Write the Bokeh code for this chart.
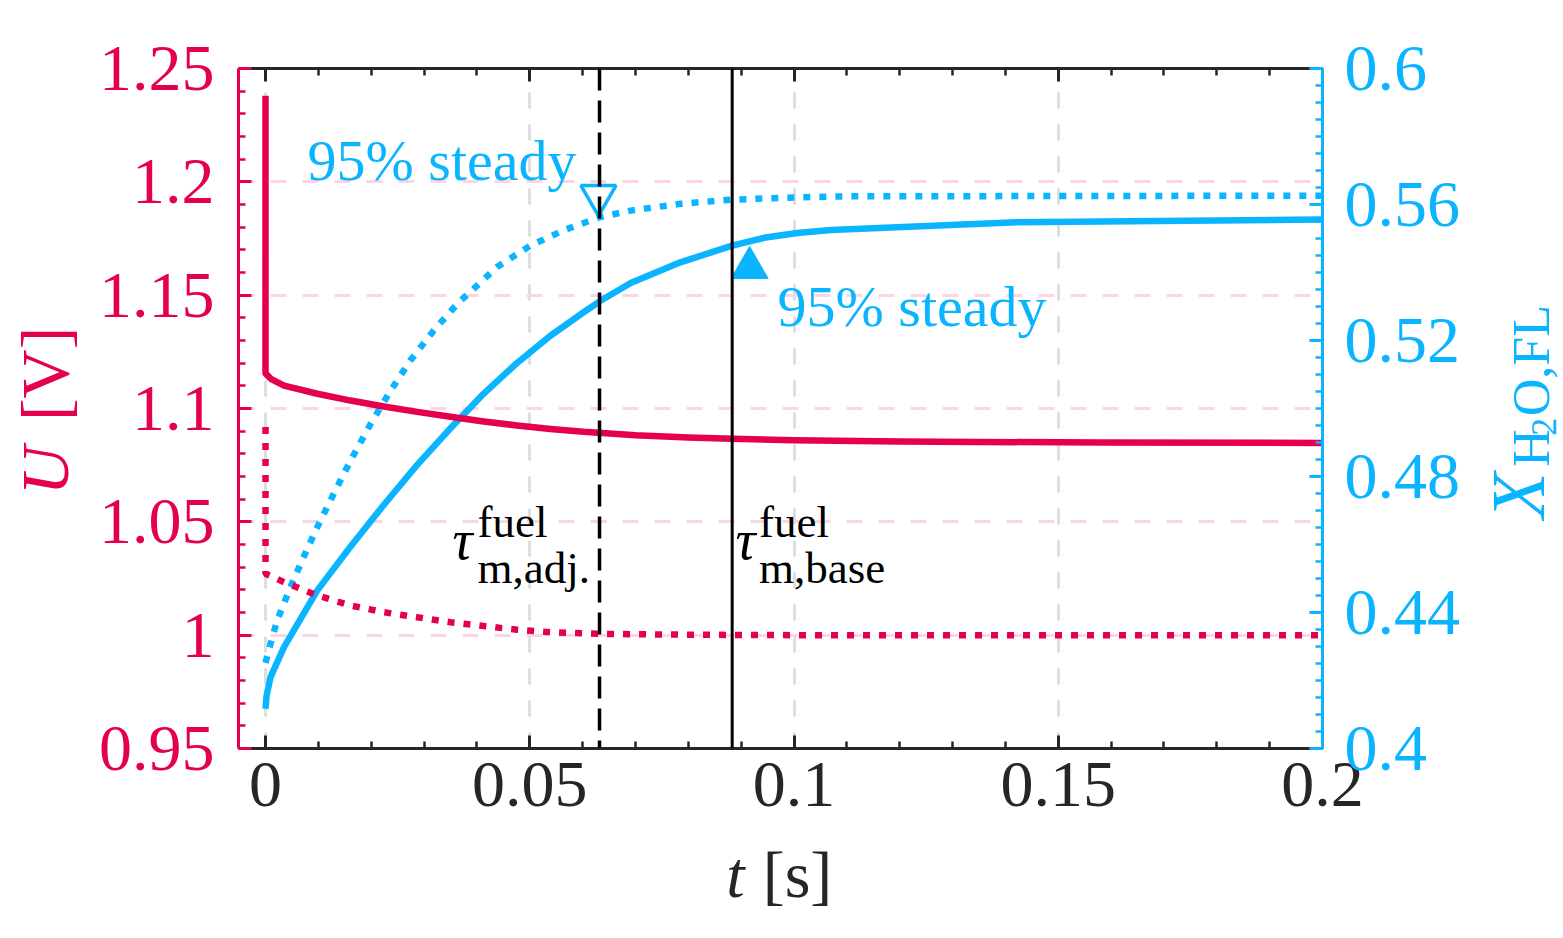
import math
from bokeh.plotting import figure
from bokeh.layouts import row, column
from bokeh.models import (Range1d, LinearAxis, FixedTicker, Span, Label,
                          CustomJSTickFormatter)
from bokeh.embed import file_html
from bokeh.resources import INLINE

RED = "#E5004B"
BLUE = "#0AB4FF"
DARK = "#262626"
FONT = "Liberation Serif"

# ---------------- data ----------------
# cell voltage, base case (solid red, left axis)
t_U_base = [0.0, 0.0, 0.001, 0.0035, 0.0098, 0.0161, 0.0224, 0.0287, 0.035, 0.0413,
            0.0476, 0.0539, 0.0602, 0.07, 0.08, 0.0883, 0.1, 0.12, 0.158, 0.2]
U_base = [1.238, 1.1155, 1.1131, 1.1101, 1.1065, 1.1035, 1.1009, 1.0985, 1.0964, 1.0943,
          1.0925, 1.0910, 1.0897, 1.0882, 1.0872, 1.0866, 1.0860, 1.0854, 1.0850, 1.0848]

# cell voltage, adjusted case (dotted red, left axis)
t_U_adj = [0.0, 0.0, 0.0035, 0.0098, 0.0161, 0.0224, 0.0287, 0.035, 0.0413, 0.0476,
           0.0539, 0.0627, 0.08, 0.1, 0.2]
U_adj = [1.0918, 1.0271, 1.0234, 1.0175, 1.0131, 1.0101, 1.0079, 1.0057, 1.0040, 1.0024,
         1.0013, 1.0006, 1.0002, 1.0, 1.0]

# water fraction, base case (solid blue, right axis)
t_X_base = [0.0, 0.0002, 0.00095, 0.0035, 0.0098, 0.0161, 0.0224, 0.0287, 0.035, 0.0413,
            0.0476, 0.0539, 0.0602, 0.0633, 0.0691, 0.0785, 0.0883, 0.0943, 0.1006, 0.107,
            0.1422, 0.2]
X_base = [0.4117, 0.4155, 0.4210, 0.4298, 0.4465, 0.4594, 0.4717, 0.4834, 0.4942, 0.5044,
          0.5134, 0.5214, 0.5283, 0.5316, 0.5369, 0.5430, 0.5479, 0.5502, 0.5516, 0.5525,
          0.5548, 0.5556]

# water fraction, adjusted case (dotted blue, right axis)
t_X_adj = [0.0, 0.00095, 0.0022, 0.0047, 0.0072, 0.0098, 0.0129, 0.0161, 0.0199, 0.0237,
           0.0274, 0.0318, 0.0363, 0.0413, 0.0438, 0.0501, 0.0564, 0.0633, 0.0691, 0.0785,
           0.088, 0.1006, 0.1101, 0.2]
X_adj = [0.4252, 0.4308, 0.4376, 0.4474, 0.4563, 0.4651, 0.4749, 0.4847, 0.4955, 0.5053,
         0.5141, 0.5229, 0.5308, 0.5380, 0.5416, 0.5479, 0.5524, 0.5563, 0.5582, 0.5602,
         0.5614, 0.5621, 0.5624, 0.5626]

# time constants (vertical lines)
tau_adj = 0.0632
tau_base = 0.0883

# 95 % steady markers (right axis)
mark_adj_t = [0.0630]
mark_adj_X = [0.5626]
mark_base_t = [0.0916]
mark_base_X = [0.5414]

# ticks
x_ticks = [0.0, 0.05, 0.1, 0.15, 0.2]
x_tick_labels = ["0", "0.05", "0.1", "0.15", "0.2"]
x_minor = [0.01, 0.02, 0.03, 0.04, 0.06, 0.07, 0.08, 0.09, 0.11, 0.12, 0.13, 0.14,
           0.16, 0.17, 0.18, 0.19]
U_ticks = [0.95, 1.0, 1.05, 1.1, 1.15, 1.2, 1.25]
U_tick_labels = ["0.95", "1", "1.05", "1.1", "1.15", "1.2", "1.25"]
U_minor = [0.96, 0.97, 0.98, 0.99, 1.01, 1.02, 1.03, 1.04, 1.06, 1.07, 1.08, 1.09, 1.11,
           1.12, 1.13, 1.14, 1.16, 1.17, 1.18, 1.19, 1.21, 1.22, 1.23, 1.24]
X_ticks = [0.4, 0.44, 0.48, 0.52, 0.56, 0.6]
X_tick_labels = ["0.4", "0.44", "0.48", "0.52", "0.56", "0.6"]
X_minor = [0.405, 0.41, 0.415, 0.42, 0.425, 0.43, 0.435, 0.445, 0.45, 0.455, 0.46, 0.465,
           0.47, 0.475, 0.485, 0.49, 0.495, 0.5, 0.505, 0.51, 0.515, 0.525, 0.53, 0.535,
           0.54, 0.545, 0.55, 0.555, 0.565, 0.57, 0.575, 0.58, 0.585, 0.59, 0.595]

# ---------------- layout (page pixels) ----------------
LEFT_W = 90          # strip holding the U [V] title
RIGHT_X0 = 1470      # strip holding the X_H2O,FL title
TOTAL_W = 1563
TOP_H = 835          # height of the row with the main plot
TOTAL_H = 936


def fmt(vals, labs):
    return CustomJSTickFormatter(args=dict(tvals=vals, tlabs=labs), code="""
        const i = tvals.findIndex(v => Math.abs(v - tick) < 1e-9);
        return i >= 0 ? tlabs[i] : '';
    """)


p = figure(frame_width=1084, frame_height=680,
           x_range=Range1d(-0.00511, 0.2), y_range=Range1d(0.95, 1.25),
           output_backend="svg", toolbar_location=None,
           min_border_left=238 - LEFT_W, min_border_right=RIGHT_X0 - 1322,
           min_border_top=68, min_border_bottom=TOP_H - 748,
           outline_line_color=None,
           background_fill_color="white", border_fill_color="white")
p.extra_y_ranges = {"X": Range1d(0.4, 0.6)}


def style_axis(ax, color, label_color, standoff, size="66px"):
    ax.axis_line_color = color
    ax.axis_line_width = 3
    ax.major_tick_line_color = color
    ax.major_tick_line_width = 3
    ax.minor_tick_line_color = color
    ax.minor_tick_line_width = 2.5
    ax.major_tick_in = 13
    ax.major_tick_out = 0
    ax.minor_tick_in = 7
    ax.minor_tick_out = 0
    ax.major_label_text_font = FONT
    ax.major_label_text_font_size = size
    ax.major_label_text_color = label_color
    ax.major_label_standoff = standoff


xax = p.xaxis[0]
xax.ticker = FixedTicker(ticks=x_ticks, minor_ticks=x_minor)
xax.formatter = fmt(x_ticks, x_tick_labels)
style_axis(xax, DARK, DARK, 14)

yax = p.yaxis[0]
yax.ticker = FixedTicker(ticks=U_ticks, minor_ticks=U_minor)
yax.formatter = fmt(U_ticks, U_tick_labels)
style_axis(yax, RED, RED, 24)

top = LinearAxis(ticker=FixedTicker(ticks=x_ticks, minor_ticks=x_minor),
                 formatter=fmt([], []))
style_axis(top, DARK, None, 0, size="1px")
p.add_layout(top, "above")

rax = LinearAxis(y_range_name="X", ticker=FixedTicker(ticks=X_ticks, minor_ticks=X_minor),
                 formatter=fmt(X_ticks, X_tick_labels))
style_axis(rax, BLUE, BLUE, 22)
p.add_layout(rax, "right")

p.xgrid.ticker = FixedTicker(ticks=x_ticks)
p.xgrid.grid_line_color = "#dedede"
p.xgrid.grid_line_width = 3
p.xgrid.grid_line_dash = "16 16"
p.ygrid.ticker = FixedTicker(ticks=U_ticks)
p.ygrid.grid_line_color = "#f9d6e1"
p.ygrid.grid_line_width = 3
p.ygrid.grid_line_dash = "16 16"

# curves
p.line(t_X_base, X_base, y_range_name="X", line_color=BLUE, line_width=6.5, line_join="round")
p.line(t_X_adj, X_adj, y_range_name="X", line_color=BLUE, line_width=6.5, line_dash="7 9")
p.line(t_U_base, U_base, line_color=RED, line_width=6.5, line_join="round")
p.line(t_U_adj, U_adj, line_color=RED, line_width=6.5, line_dash="7 9")

# time constants
p.add_layout(Span(location=tau_adj, dimension="height", line_color="black",
                  line_width=3.5, line_dash="22 10"))
p.add_layout(Span(location=tau_base, dimension="height", line_color="black",
                  line_width=3))

# 95% markers
p.scatter(mark_adj_t, mark_adj_X, y_range_name="X", marker="inverted_triangle", size=35,
          fill_color=None, line_color=BLUE, line_width=3.5)
p.scatter(mark_base_t, mark_base_X, y_range_name="X", marker="triangle", size=37,
          fill_color=BLUE, line_color=BLUE, line_width=1)


def label(fig, x, y, text, size, color="black", style="normal", angle=0.0, align="left"):
    fig.add_layout(Label(x=x, y=y, text=text, text_font=FONT, text_font_size=size,
                         text_color=color, text_font_style=style, angle=angle,
                         text_align=align, text_baseline="alphabetic"))


# annotations inside the plot
label(p, 0.00795, 1.2096, "95% steady", "58px", BLUE)
label(p, 0.09688, 1.1452, "95% steady", "58px", BLUE)

label(p, 0.03538, 1.0418, "τ", "56px", style="italic")
label(p, 0.04011, 1.0500, "fuel", "45px")
label(p, 0.04011, 1.0296, "m,adj.", "45px")
label(p, 0.08893, 1.0418, "τ", "56px", style="italic")
label(p, 0.09338, 1.0500, "fuel", "45px")
label(p, 0.09338, 1.0296, "m,base", "45px")


# strips for the axis titles: x in page pixels, y = minus page pixels
def strip(x0, x1, y0, y1):
    return figure(width=x1 - x0, height=y1 - y0,
                  x_range=Range1d(x0, x1), y_range=Range1d(-y1, -y0),
                  x_axis_type=None, y_axis_type=None, output_backend="svg",
                  toolbar_location=None, min_border=0, outline_line_color=None,
                  background_fill_color="white", border_fill_color="white")


half_pi = math.pi / 2

fig_left = strip(0, LEFT_W, 0, TOP_H)
label(fig_left, 44, -494, "U", "68px", RED, "italic", half_pi, "center")
label(fig_left, 44, -375, "[V]", "68px", RED, "normal", half_pi, "center")

fig_right = strip(RIGHT_X0, TOTAL_W, 0, TOP_H)
label(fig_right, 1517, -553, "X", "76px", BLUE, "italic", half_pi, "left")
label(fig_right, 1531, -489, "H", "52px", BLUE, "normal", half_pi, "left")
label(fig_right, 1543, -451, "2", "36px", BLUE, "normal", half_pi, "left")
label(fig_right, 1531, -427, "O,FL", "52px", BLUE, "normal", half_pi, "left")

fig_bottom = strip(0, TOTAL_W, TOP_H, TOTAL_H)
label(fig_bottom, 735, -874, "t", "66px", DARK, "italic", 0.0, "center")
label(fig_bottom, 797, -874, "[s]", "66px", DARK, "normal", 0.0, "center")

layout = column(row(fig_left, p, fig_right, spacing=0), fig_bottom, spacing=0)

open("out.html", "w").write(file_html(layout, INLINE))
